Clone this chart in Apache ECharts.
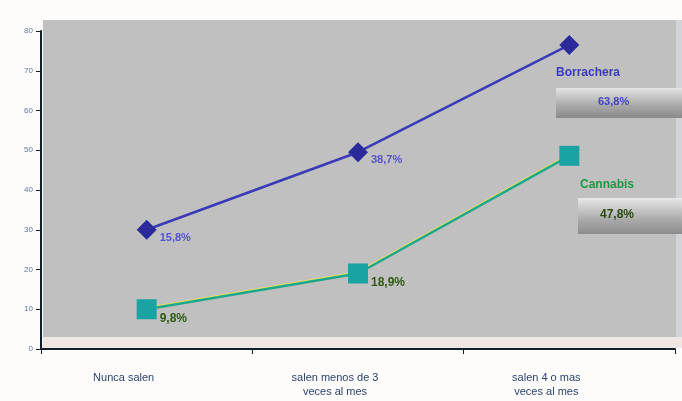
<!DOCTYPE html>
<html><head><meta charset="utf-8">
<script src="https://cdn.jsdelivr.net/npm/echarts@6/dist/echarts.min.js"></script>
<style>html,body{margin:0;padding:0;background:#fff}#c{width:682px;height:401px}</style>
</head><body><div id="c"></div>
<script>
const categories = ['Nunca salen', 'salen menos de 3\nveces al mes', 'salen 4 o mas\nveces al mes'];
const borracheraValues = [30, 49.5, 76.5];
const borracheraLabels = ['15,8%', '38,7%', ''];
const cannabisValues = [10, 19, 48.6];
const cannabisLabels = ['9,8%', '18,9%', ''];
const yTicks = [0, 10, 20, 30, 40, 50, 60, 70, 80];
const seriesNames = ['Borrachera', 'Cannabis'];
const totals = ['63,8%', '47,8%'];

const chart = echarts.init(document.getElementById('c'));
chart.setOption({
  animation: false,
  backgroundColor: '#fdfcfb',
  grid: {left: 41, right: 7, top: 31, bottom: 52},
  xAxis: {
    type: 'category', data: categories, boundaryGap: true,
    axisLine: {lineStyle: {color: '#10202a', width: 2}},
    axisTick: {show: true, length: 5, lineStyle: {color: '#10202a'}},
    axisLabel: {color: '#2a4470', fontSize: 11, fontFamily: 'Liberation Sans', lineHeight: 14, margin: 22,
      padding: [0, 46, 0, 0]}
  },
  yAxis: {
    type: 'value', min: 0, max: 80, interval: 10,
    axisLine: {show: true, lineStyle: {color: '#10202a', width: 2}},
    axisTick: {show: true, length: 5, lineStyle: {color: '#10202a'}},
    splitLine: {show: false},
    axisLabel: {color: '#5a78a8', fontSize: 8, fontFamily: 'Liberation Sans', margin: 8,
      formatter: v => yTicks.includes(v) ? String(v) : ''}
  },
  graphic: [
    {type: 'rect', z: -10, shape: {x: 43, y: 20, width: 633, height: 317}, style: {fill: '#c0c0c1'}},
    {type: 'rect', z: -10, shape: {x: 676, y: 20, width: 6, height: 317}, style: {fill: '#d2d4d8'}},
    {type: 'rect', z: -10, shape: {x: 43, y: 337, width: 639, height: 11}, style: {fill: '#f0e6e4'}},
    {type: 'text', left: 556, top: 67, style: {text: seriesNames[0], fill: '#3a3ac0', font: 'bold 12px Liberation Sans'}},
    {type: 'rect', shape: {x: 556, y: 88, width: 126, height: 30},
      style: {fill: {type: 'linear', x: 0, y: 0, x2: 0, y2: 1, colorStops: [{offset: 0, color: '#e4e4e4'}, {offset: 0.6, color: '#a8a8a8'}, {offset: 1, color: '#8a8a8a'}]}}},
    {type: 'text', left: 598, top: 96, style: {text: totals[0], fill: '#4444c8', font: 'bold 11px Liberation Sans'}},
    {type: 'text', left: 580, top: 179, style: {text: seriesNames[1], fill: '#1a9a40', font: 'bold 12px Liberation Sans'}},
    {type: 'rect', shape: {x: 578, y: 198, width: 104, height: 36},
      style: {fill: {type: 'linear', x: 0, y: 0, x2: 0, y2: 1, colorStops: [{offset: 0, color: '#e8e8e8'}, {offset: 0.6, color: '#aaaaaa'}, {offset: 1, color: '#8c8c8c'}]}}},
    {type: 'text', left: 600, top: 209, style: {text: totals[1], fill: '#2a4a10', font: 'bold 12px Liberation Sans'}}
  ],
  series: [
    {
      name: seriesNames[0], type: 'line', data: borracheraValues,
      symbol: 'diamond', symbolSize: 20,
      lineStyle: {color: '#3a3ab8', width: 2.5},
      itemStyle: {color: '#2a2a9a'},
      label: {show: true, position: 'right', offset: [-2, 8], color: '#5555cc', fontSize: 11, fontWeight: 'bold', fontFamily: 'Liberation Sans',
        formatter: p => borracheraLabels[p.dataIndex]}
    },
    {
      name: seriesNames[1], type: 'line', data: cannabisValues,
      symbol: 'rect', symbolSize: 20,
      lineStyle: {color: '#1ea88a', width: 2.5, shadowColor: '#e8e060', shadowBlur: 0, shadowOffsetY: -1},
      itemStyle: {color: '#19a3a3'},
      label: {show: true, position: 'right', offset: [-2, 9], color: '#2f5a12', fontSize: 12, fontWeight: 'bold', fontFamily: 'Liberation Sans',
        formatter: p => cannabisLabels[p.dataIndex]}
    }
  ]
});
</script></body></html>
